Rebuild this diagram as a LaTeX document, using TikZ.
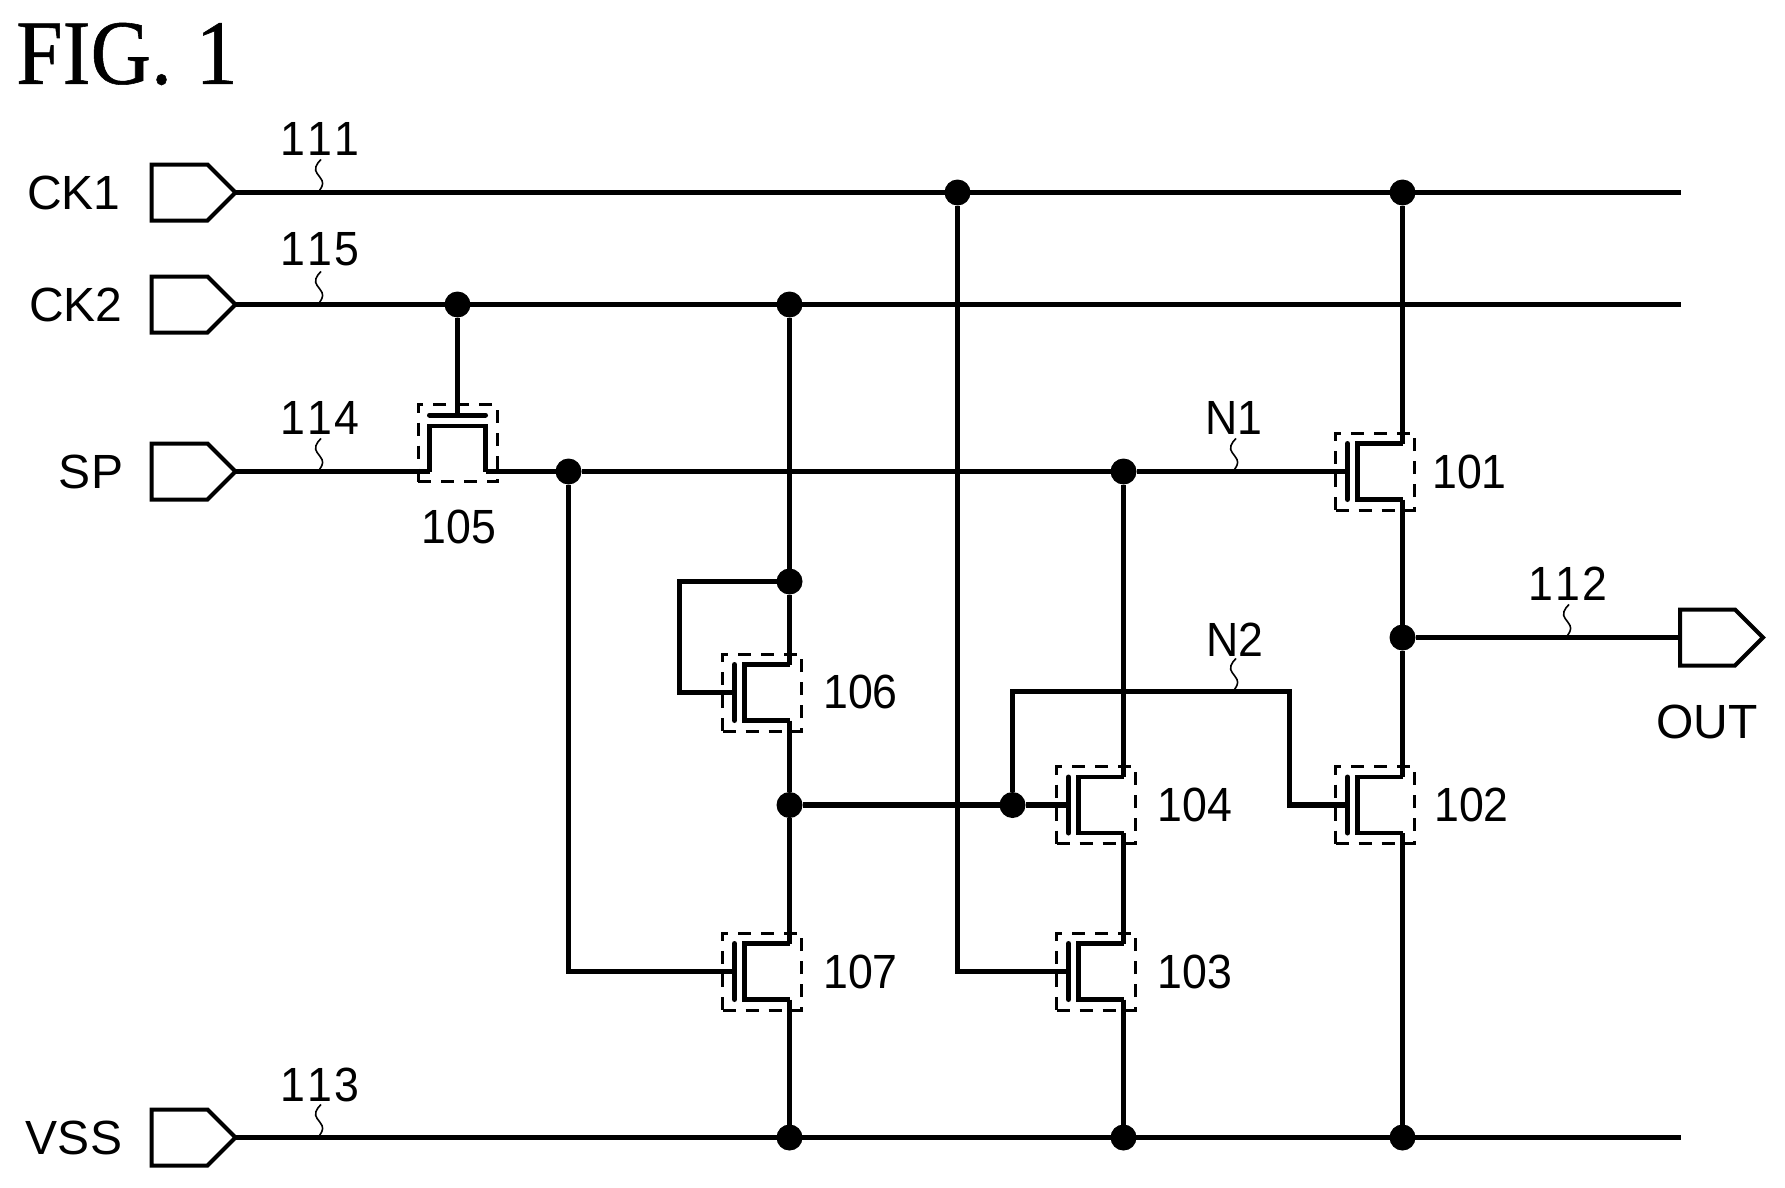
\documentclass[tikz,border=0pt]{standalone}
\usepackage{fontspec}
\setmainfont[FakeStretch=0.93]{Liberation Sans}
\newfontfamily\pinfont{Liberation Sans}
\newfontfamily\figfont[FakeStretch=0.91,FakeBold=0.6]{Liberation Serif}
\usetikzlibrary{calc}
\tikzset{
  wire/.style={line width=5.5pt,line join=miter},
  chan/.style={line width=4.5pt,line join=miter},
  bar/.style={line width=5pt,line cap=round},
  cellbox/.style={draw,line width=3pt,dash pattern=on 13pt off 10pt,minimum width=79pt,minimum height=77pt,inner sep=0pt,outer sep=0pt},
  dot/.style={circle,fill=black,draw=none,minimum size=26pt,inner sep=0pt,outer sep=0pt},
  pin/.style={line width=4pt,line join=miter,fill=white},
  squig/.style={line width=1.6pt},
  lbl/.style={font=\fontsize{48}{48}\selectfont,inner sep=0pt,outer sep=0pt},
  pinlbl/.style={font=\pinfont\fontsize{48}{48}\selectfont,inner sep=0pt,outer sep=0pt},
  fig/.style={font=\figfont\fontsize{92}{92}\selectfont,inner sep=0pt,outer sep=0pt},
}
% #1 name, #2 line x, #3 centre y
\newcommand{\fetcell}[3]{%
  \coordinate (#1-d) at (#2,#3-28);
  \coordinate (#1-s) at (#2,#3+28);
  \coordinate (#1-g) at (#2-55,#3);
  \node[cellbox] (#1) at (#2-27.5,#3) {};
  \draw[chan] (#1-d) -- (#2-45,#3-28) -- (#2-45,#3+28) -- (#1-s);
  \draw[bar] (#2-55,#3-28) -- (#2-55,#3+28);
}
% #1 name, #2 tip x, #3 y
\newcommand{\pincell}[3]{%
  \coordinate (#1) at (#2,#3);
  \draw[pin] (#2-84,#3-28) -- (#2-28,#3-28) -- (#2,#3) -- (#2-28,#3+28) -- (#2-84,#3+28) -- cycle;
}
\newcommand{\squiggle}[2]{%
  \draw[squig,shift={(#1,#2)}] (-1,0) .. controls (2,-4) and (5,-8) .. (3,-12) .. controls (0,-18) and (-5,-20) .. (-3,-26) .. controls (-2,-29) and (0,-31) .. (2,-33);
}
\newcommand{\tk}{\kern2pt }
\begin{document}
\begin{tikzpicture}[x=1pt,y=-1pt]
\useasboundingbox (0,0) rectangle (1785,1188);
% transistors
\fetcell{f101}{1402.5}{471.5}
\fetcell{f102}{1402.5}{805}
\fetcell{f103}{1123.5}{971.5}
\fetcell{f104}{1123.5}{805}
\fetcell{f106}{789.5}{692.5}
\fetcell{f107}{789.5}{971.5}
% transistor 105 (gate above)
\node[cellbox] (f105) at (457.5,443) {};
\coordinate (f105-l) at (429.5,471.5);
\coordinate (f105-r) at (485.5,471.5);
\coordinate (f105-g) at (457.5,415);
\draw[chan] (f105-l) -- (429.5,426) -- (485.5,426) -- (f105-r);
\draw[bar] (429.5,415) -- (485.5,415);
% pins
\pincell{pck1}{235.5}{192.5}
\pincell{pck2}{235.5}{304.5}
\pincell{psp}{235.5}{471.5}
\pincell{pvss}{235.5}{1137.5}
\coordinate (pout) at (1680,637.5);
\draw[pin] (pout) -- ++(0,-28) -- ++(55,0) -- ++(28,28) -- ++(-28,28) -- ++(-55,0) -- cycle;
% junctions
\node[dot] (jck1a) at (957.5,192.5) {};
\node[dot] (jck1b) at (1402.5,192.5) {};
\node[dot] (jck2a) at (457.5,304.5) {};
\node[dot] (jck2b) at (789.5,304.5) {};
\node[dot] (jspa) at (568.5,471.5) {};
\node[dot] (jn1) at (1123.5,471.5) {};
\node[dot] (jout) at (1402.5,637.5) {};
\node[dot] (jloop) at (789.5,581.5) {};
\node[dot] (jmid) at (789.5,805) {};
\node[dot] (jn2) at (1012.5,805) {};
\node[dot] (jv1) at (789.5,1137.5) {};
\node[dot] (jv2) at (1123.5,1137.5) {};
\node[dot] (jv3) at (1402.5,1137.5) {};
% free ends
\coordinate (eck1) at (1681,192.5);
\coordinate (eck2) at (1681,304.5);
\coordinate (evss) at (1681,1137.5);
% rails
\draw[wire] (pck1) -- (eck1);
\draw[wire] (pck2) -- (eck2);
\draw[wire] (pvss) -- (evss);
\draw[wire] (psp) -- (f105-l);
\draw[wire] (f105-r) -- (jspa);
\draw[wire] (jspa) -- (jn1);
\draw[wire] (jn1) -- (f101-g);
\draw[wire] (jout) -- (pout);
% verticals
\draw[wire] (jck1b) -- (f101-d);
\draw[wire] (f101-s) -- (jout);
\draw[wire] (jout) -- (f102-d);
\draw[wire] (f102-s) -- (jv3);
\draw[wire] (jck2a) -- (f105-g);
\draw[wire] (jck2b) -- (jloop);
\draw[wire] (jloop) -- (f106-d);
\draw[wire] (f106-s) -- (jmid);
\draw[wire] (jmid) -- (f107-d);
\draw[wire] (f107-s) -- (jv1);
\draw[wire] (jn1) -- (f104-d);
\draw[wire] (f104-s) -- (f103-d);
\draw[wire] (f103-s) -- (jv2);
\draw[wire] (jck1a) |- (f103-g);
\draw[wire] (jspa) |- (f107-g);
\draw[wire] (jloop) -- (679.5,581.5) |- (f106-g);
\draw[wire] (jmid) -- (jn2);
\draw[wire] (jn2) -- (f104-g);
\draw[wire] (jn2) -- (1012.5,691.5) -- (1289.5,691.5) |- (f102-g);
% squiggles
\squiggle{319}{192.5}
\squiggle{319}{304.5}
\squiggle{319}{471.5}
\squiggle{319}{1137.5}
\squiggle{1567}{637.5}
\squiggle{1234}{471.5}
\squiggle{1234}{691.5}
% labels
\node[fig] (title) at (127,54) {FIG. \kern3pt 1};
\node[pinlbl] (tck1) at (74,193) {CK1};
\node[pinlbl] (tck2) at (76,305) {CK2};
\node[pinlbl] (tsp) at (91,472) {SP};
\node[pinlbl] (tvss) at (74,1138) {VSS};
\node[pinlbl] (tout) at (1707,722) {OUT};
\node[lbl] (l111) at (320,139) {1\tk 1\tk 1};
\node[lbl] (l115) at (320,249) {1\tk 1\tk 5};
\node[lbl] (l114) at (320,418) {1\tk 1\tk 4};
\node[lbl] (l113) at (320,1085) {1\tk 1\tk 3};
\node[lbl] (l112) at (1568,584) {1\tk 1\tk 2};
\node[lbl] (ln1) at (1234,418) {N1};
\node[lbl] (ln2) at (1235,640) {N2};
\node[lbl] (l105) at (459,527) {105};
\node[lbl] (l101) at (1469.5,472) {101};
\node[lbl] (l102) at (1471.5,805) {102};
\node[lbl] (l103) at (1195,972) {103};
\node[lbl] (l104) at (1195,805) {104};
\node[lbl] (l106) at (860.5,692) {106};
\node[lbl] (l107) at (860.5,972) {107};
\end{tikzpicture}
\end{document}
